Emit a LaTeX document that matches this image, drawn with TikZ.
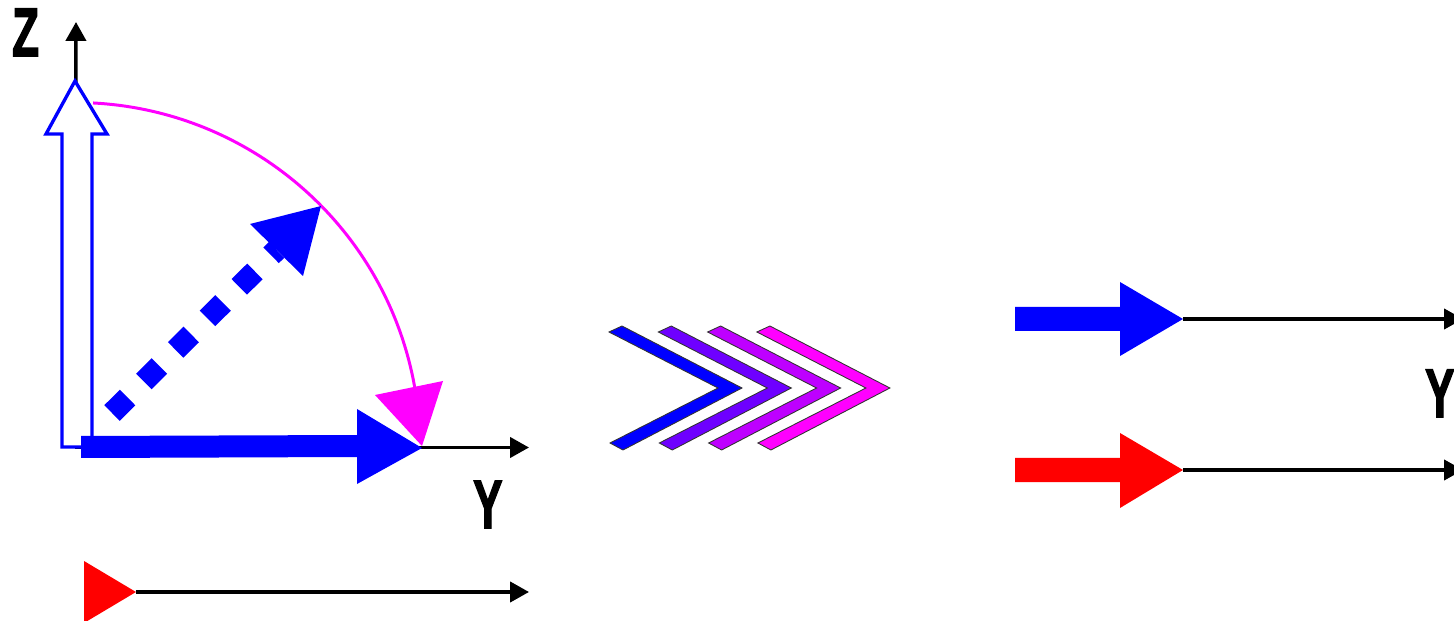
\documentclass[tikz,border=0pt]{standalone}
\usepackage{fontspec}
\setmainfont{Liberation Sans}
\newfontfamily\heavyfont[FakeBold=2.5]{Liberation Sans Bold}
\usetikzlibrary{arrows.meta}
\definecolor{chvA}{RGB}{0,0,255}
\definecolor{chvB}{RGB}{110,0,255}
\definecolor{chvC}{RGB}{190,0,255}
\definecolor{chvD}{RGB}{255,0,255}
\definecolor{mag}{RGB}{255,0,255}
\definecolor{myred}{RGB}{255,0,0}
\definecolor{myblue}{RGB}{0,0,255}
\begin{document}
\begin{tikzpicture}[x=0.02cm,y=-0.02cm,
  axis/.style={draw=black,line width=2pt,-{Triangle[length=10.8pt,width=11.5pt]}},
  lbl/.style={inner sep=0pt,font=\heavyfont\fontsize{39}{39}\selectfont,xscale=0.64},
  chev/.style={draw=black!80,line width=0.5pt}]
\useasboundingbox (0,0) rectangle (1454,621);
% coordinates
\coordinate (O) at (75,447.5);
\coordinate (ztip) at (76,22);
\coordinate (ytip) at (529,447.5);
\coordinate (r1) at (136,592);
\coordinate (r1tip) at (529,592);
\coordinate (b2) at (1183,319);
\coordinate (b2tip) at (1463,319);
\coordinate (r2) at (1183,470);
\coordinate (r2tip) at (1463,470);
% axes
\draw[axis] (O) -- (ztip);
\draw[axis] (O) -- (ytip);
% labels
\node[lbl,anchor=base west] (zl) at (12,56) {Z};
\node[lbl,anchor=base west] (yl) at (473,528) {Y};
\node[lbl,anchor=base west] (yr) at (1425,417) {Y};
% hollow arrow
\draw[myblue,line width=1.9pt,fill=white]
  (62,447) -- (62,134) -- (46,134) -- (75,81) -- (107,134) -- (92,134) -- (92,447) -- cycle;
% magenta arc
\draw[mag,line width=1.7pt] (O) ++(-87:345) arc[start angle=-87,end angle=-10,radius=345];
\fill[mag] (375,395) -- (443,381) -- (422,446) -- cycle;
% dashed diagonal arrow
\draw[myblue,line width=12.5pt,dash pattern=on 12.5pt off 13pt] (112,413) -- (276.5,250);
\fill[myblue] (250,224) -- (321,206) -- (303,276) -- cycle;
% solid blue arrow along Y
\fill[myblue] (81,436) -- (357,435) -- (357,409) -- (422,448) -- (357,484) -- (357,457) -- (81,458) -- cycle;
% red small arrow
\fill[myred] (84,561) -- (r1) -- (84,623) -- cycle;
\draw[axis] (r1) -- (r1tip);
% chevrons
\foreach \i/\c in {0/chvA,1/chvB,2/chvC,3/chvD}{
  \draw[chev,fill=\c,shift={(49.3*\i,0)}]
    (609,332) -- (622,326) -- (742,388) -- (623,450) -- (610,443) -- (718,388) -- cycle;
}
% right arrows
\fill[myblue] (1015,307) -- (1120,307) -- (1120,282) -- (b2) -- (1120,356) -- (1120,331) -- (1015,331) -- cycle;
\draw[axis] (b2) -- (b2tip);
\fill[myred] (1015,458) -- (1120,458) -- (1120,433) -- (r2) -- (1120,508) -- (1120,482) -- (1015,482) -- cycle;
\draw[axis] (r2) -- (r2tip);
\end{tikzpicture}
\end{document}
